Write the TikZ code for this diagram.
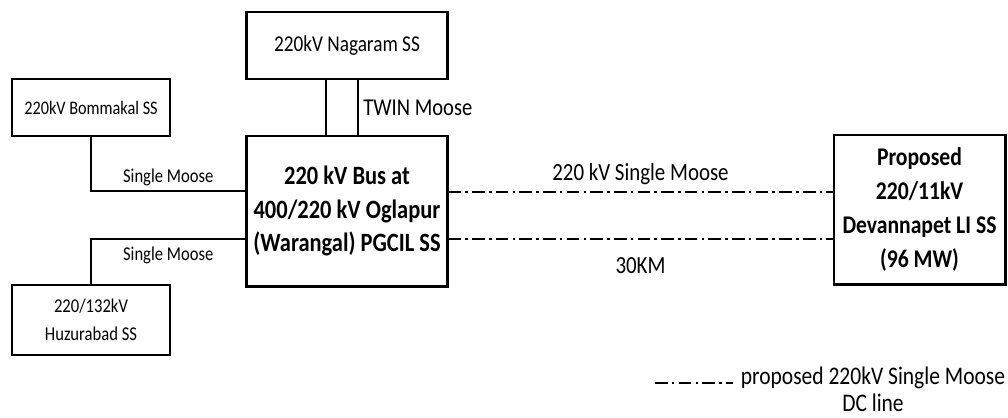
\documentclass[tikz,border=0pt]{standalone}
\usepackage{fontspec}
\setmainfont{Carlito}[FakeStretch=0.85]
\begin{document}
\begin{tikzpicture}[
  x=0.025cm, y=-0.025cm,
  box/.style={draw, line width=2.1pt, align=center, inner sep=2pt},
  wire/.style={line width=1pt},
  proposed/.style={line width=1.2pt, dash pattern=on 9pt off 3pt on 1.8pt off 3pt}
]
  \useasboundingbox (0,0) rectangle (1008,417);

  % Substations
  \node[box, minimum width=5cm, minimum height=1.675cm,
        font={\fontsize{16.1}{19}\selectfont}] (nagaram) at (347,45.5) {220kV Nagaram SS};
  \node[box, minimum width=3.95cm, minimum height=1.425cm,
        font={\fontsize{13.6}{16}\selectfont}] (bommakal) at (91,107.5) {220kV Bommakal SS};
  \node[box, minimum width=5cm, minimum height=3.75cm,
        font={\bfseries\fontsize{18.8}{23.8}\selectfont}] (bus) at (347,211)
        {220 kV Bus at\\400/220 kV Oglapur\\(Warangal) PGCIL SS};
  \node[box, minimum width=3.95cm, minimum height=1.75cm,
        font={\fontsize{13.9}{20}\selectfont}] (huzurabad) at (91,320) {220/132kV\\Huzurabad SS};
  \node[box, minimum width=4.275cm, minimum height=3.725cm,
        font={\bfseries\fontsize{18.1}{24.2}\selectfont}] (devannapet) at (919.5,209.5)
        {Proposed\\220/11kV\\Devannapet LI SS\\(96 MW)};

  % Existing lines
  \draw[wire] ([xshift=-0.525cm]nagaram.south) -- ([xshift=-0.525cm]bus.north);
  \draw[wire] ([xshift=0.275cm]nagaram.south) -- ([xshift=0.275cm]bus.north)
    node[midway, right, font={\fontsize{17.2}{20}\selectfont}] (twin) {TWIN Moose};
  \draw[wire] (bommakal.south) |- ([yshift=0.5cm]bus.west)
    node[pos=0.75, above, font={\fontsize{13.9}{16}\selectfont}] (sm1) {Single Moose};
  \draw[wire] (huzurabad.north) |- ([yshift=-0.7cm]bus.west)
    node[pos=0.75, below=2pt, font={\fontsize{13.9}{16}\selectfont}] (sm2) {Single Moose};

  % Proposed DC line
  \draw[proposed] ([yshift=0.48cm]bus.east) -- ([yshift=0.48cm]bus.east -| devannapet.west)
    node[midway, above=1pt, font={\fontsize{17.5}{20}\selectfont}] (dcname) {220 kV Single Moose};
  \draw[proposed] ([yshift=-0.7cm]bus.east) -- ([yshift=-0.7cm]bus.east -| devannapet.west)
    node[midway, below=9pt, font={\fontsize{17.5}{20}\selectfont}] (dclen) {30KM};

  % Legend
  \coordinate (legA) at (655,383);
  \coordinate (legB) at (733,383);
  \draw[proposed] (legA) -- (legB);
  \node[align=center, font={\fontsize{18}{19.2}\selectfont}] (legtext) at (873,389.5)
    {proposed 220kV Single Moose\\DC line};
\end{tikzpicture}
\end{document}
